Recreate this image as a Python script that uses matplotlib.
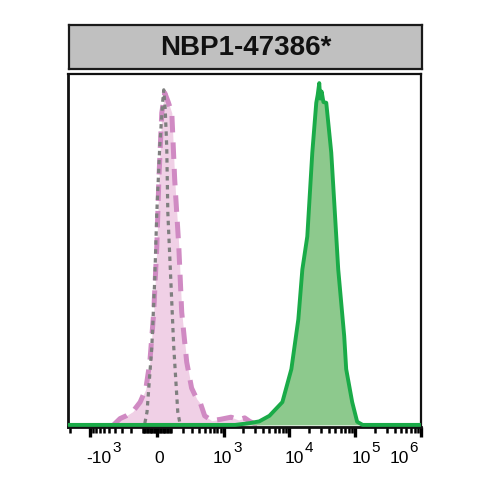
import numpy as np
import matplotlib
matplotlib.use("Agg")
import matplotlib.pyplot as plt

plt.rcParams['font.family'] = ['Liberation Sans', 'DejaVu Sans']

TITLE = "NBP1-47386*"

# fluorescence intensity (logicle-like axis), % of mode
pink_x = [-420, -325, -250, -183, -120, -77, -48, -21, 0, 14, 34, 55,
          80, 107, 130, 165, 192, 243, 300, 370, 430, 501, 650, 900, 1300, 1700,
          2100, 2500, 3000, 4000]
pink_y = [0.0, 1.8, 2.6, 3.8, 6.5, 10.2, 17.9, 32.1, 50.9, 69.9, 88.9, 94.6,
          92.0, 88.9, 69.9, 50.9, 32.1, 17.9, 10.5, 7.4, 6.0, 2.6, 1.2, 1.6, 2.2, 1.4,
          2.0, 1.0, 0.3, 0.0]

gray_x = [-84, -68, -34, -14, 0, 20, 40, 48, 58, 69, 77, 99, 122, 156, 175]
gray_y = [0.5, 3.7, 22.4, 41.5, 60.5, 79.3, 92.0, 95.5, 90.0, 79.3, 60.5, 41.5, 22.4, 3.7, 0.5]

green_x = [-2170, 1500, 2490, 3500, 5000, 7860, 10760, 13730, 15800, 18780, 22370,
           25700, 27000, 28530, 29500, 31000, 33000, 36450, 43400, 48190, 55380,
           68250, 73130, 90200, 107300, 130000, 930000]
green_y = [0.0, 0.0, 0.5, 1.0, 2.6, 6.5, 15.9, 30.1, 44.3, 53.7, 77.6,
           91.8, 94.0, 97.4, 93.0, 95.0, 92.0, 91.8, 77.6, 63.4, 44.3,
           25.3, 15.9, 6.5, 0.9, 0.0, 0.0]

major_ticks = [-1e3, 0, 1e3, 1e4, 1e5, 1e6]
label_base = ['-10', '0', '10', '10', '10', '10']
label_exp = ['3', '', '3', '4', '5', '6']
label_shift = [9, 2, -1, 5, 6, -22]  # px, label placement relative to tick

W = 195.0


def fwd(x):
    return np.arcsinh(np.asarray(x) / W)


def inv(y):
    return W * np.sinh(np.asarray(y))


minor_ticks = ([-2000] + list(range(-900, -100, 100)) + [-100]
               + list(range(-90, 0, 10)) + list(range(10, 100, 10)) + [100]
               + list(range(200, 1000, 100)) + list(range(2000, 10000, 1000))
               + list(range(20000, 100000, 10000)) + list(range(200000, 1000000, 100000)))

fig = plt.figure(figsize=(4.9, 4.9), dpi=100)

# title box
tax = fig.add_axes([69 / 490, 1 - 69 / 490, 353 / 490, 44 / 490])
tax.set_facecolor('#c0c0c0')
tax.set_xticks([])
tax.set_yticks([])
for s in tax.spines.values():
    s.set_color('#1a1a1a')
    s.set_linewidth(1.6)
tax.text(0.5, 0.48, TITLE, ha='center', va='center', fontsize=20,
         fontweight='bold', color='#111111', transform=tax.transAxes)

ax = fig.add_axes([68 / 490, 63 / 490, 353 / 490, 353 / 490])
ax.set_xscale('function', functions=(fwd, inv))
ax.set_xlim(-2170, 930000)
ax.set_ylim(-0.6, 100)

ax.fill_between(pink_x, pink_y, color='#f0d0e6', lw=0, zorder=1)
ax.plot(pink_x, pink_y, color='#d08ac3', lw=3.6, dashes=(3.3, 2.0), zorder=2,
        solid_capstyle='butt', dash_capstyle='butt')
ax.plot(gray_x, gray_y, color='#7f7f7f', lw=2.3, dashes=(1.4, 1.4), zorder=3)
ax.fill_between(green_x, green_y, color='#8dc98d', lw=0, zorder=4)
ax.plot(green_x, green_y, color='#1aab48', lw=2.8, zorder=5)

ax.set_xticks(major_ticks)
ax.set_xticks(minor_ticks, minor=True)
ax.tick_params(axis='x', which='major', direction='out', length=7, width=2.4,
               color='black', labelbottom=False)
ax.tick_params(axis='x', which='minor', direction='out', length=4, width=1.8,
               color='black')
ax.set_yticks([])

# tick labels with large superscripts
for v, base, ex, dx in zip(major_ticks, label_base, label_exp, label_shift):
    t = ax.annotate(base, xy=(v, 0), xycoords=('data', 'axes fraction'),
                    xytext=(dx, -36), textcoords='offset pixels',
                    ha='center', va='baseline', fontsize=12.5, color='black')
    if ex:
        ax.annotate(ex, xy=(1, 0), xycoords=t, xytext=(1, 14),
                    textcoords='offset pixels', ha='left', va='baseline',
                    fontsize=11, color='black')

for name, s in ax.spines.items():
    s.set_color('#111111')
    s.set_linewidth(1.6)
ax.spines['left'].set_linewidth(2.0)
ax.spines['bottom'].set_linewidth(2.0)

fig.savefig('out.png', dpi=100)
